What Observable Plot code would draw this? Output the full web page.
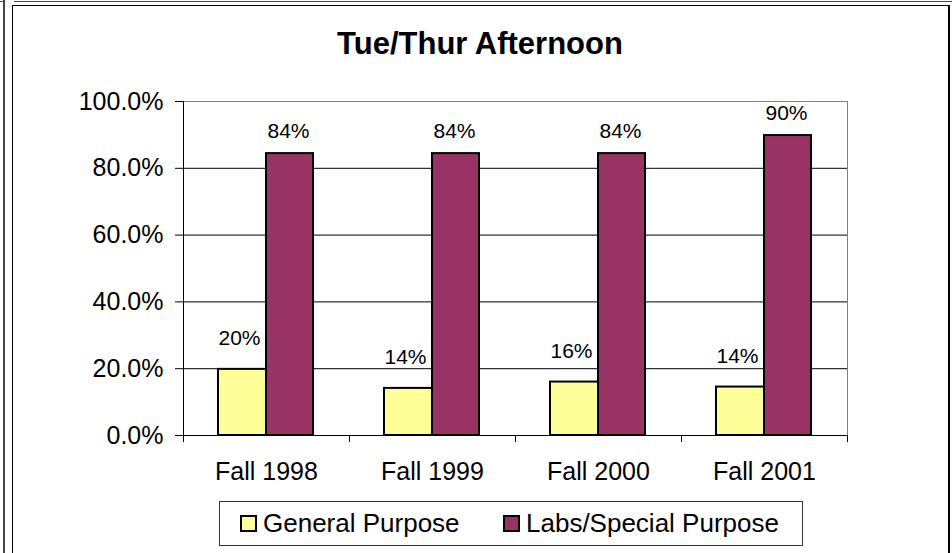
<!DOCTYPE html>
<html>
<head>
<meta charset="utf-8">
<script src="https://cdn.jsdelivr.net/npm/d3@7"></script>
<script src="https://cdn.jsdelivr.net/npm/@observablehq/plot@0.6"></script>
<style>
  html, body { margin: 0; padding: 0; background: #fff; }
  #wrap { position: relative; width: 952px; height: 553px; overflow: hidden; font-family: "Liberation Sans", Arial, sans-serif; }
  #wrap svg { position: absolute; left: 0; top: 0; }
  .ln { position: absolute; }
  #title { position: absolute; left: 0; width: 960px; top: 29px; text-align: center; font-size: 31px; line-height: 30px; font-weight: bold; color: #000; }
  #legend { position: absolute; left: 219px; top: 501px; width: 582px; height: 43px; border: 1px solid #333; box-sizing: content-box; display: flex; align-items: center; font-size: 26px; color: #000; }
  .item { display: flex; align-items: center; position: absolute; top: 0; height: 43px; }
  .sw { width: 13px; height: 13px; border: 2px solid #000; margin-right: 6px; }
</style>
</head>
<body>
<div id="wrap">
  <div class="ln" style="left:3px;top:0;width:2px;height:553px;background:#444"></div>
  <div class="ln" style="left:0;top:1px;width:5px;height:1px;background:#444"></div>
  <div class="ln" style="left:14px;top:1px;width:938px;height:1px;background:#444"></div>
  <div class="ln" style="left:12px;top:5px;width:935px;height:560px;border-left:1px solid #000;border-top:1px solid #000;border-right:2px solid #000"></div>
  <div id="chart"></div>
  <div id="title"></div>
  <div id="legend"></div>
</div>
<script>
const title = "Tue/Thur Afternoon";
const categories = ["Fall 1998", "Fall 1999", "Fall 2000", "Fall 2001"];
const seriesNames = ["General Purpose", "Labs/Special Purpose"];
const seriesColors = ["#FFFF99", "#993366"];
const generalPurpose = [0.198, 0.141, 0.160, 0.145];
const labsSpecial = [0.844, 0.844, 0.844, 0.898];
const yTicks = [0, 0.2, 0.4, 0.6, 0.8, 1.0];

const gpData = categories.map((c, i) => ({cat: c, series: seriesNames[0], value: generalPurpose[i]}));
const lsData = categories.map((c, i) => ({cat: c, series: seriesNames[1], value: labsSpecial[i]}));
const pct0 = d3.format(".0%");
const pct1 = d3.format(".1%");

const chart = Plot.plot({
  width: 952,
  height: 553,
  marginLeft: 183,
  marginRight: 105,
  marginTop: 101,
  marginBottom: 118,
  style: {fontFamily: "'Liberation Sans', Arial, sans-serif", background: "transparent", color: "#000"},
  x: {domain: categories, padding: 0, axis: null, label: null},
  y: {domain: [0, 1], axis: null, label: null},
  marks: [
    Plot.gridY(yTicks.slice(1, -1), {stroke: "#000", strokeOpacity: 1}),
    Plot.frame({stroke: "#808080"}),
    Plot.ruleY([0], {stroke: "#000"}),
    Plot.ruleX([categories[0]], {dx: -83, stroke: "#000"}),
    Plot.barY(gpData, {x: "cat", y: "value", fill: seriesColors[0], stroke: "#000", strokeWidth: 2, insetLeft: 35, insetRight: 83}),
    Plot.barY(lsData, {x: "cat", y: "value", fill: seriesColors[1], stroke: "#000", strokeWidth: 2, insetLeft: 83, insetRight: 36}),
    Plot.text(gpData, {x: "cat", y: "value", text: d => pct0(d.value), dx: -27, dy: -31, fontSize: 21, fill: "#000"}),
    Plot.text(lsData, {x: "cat", y: "value", text: d => pct0(d.value), dx: 22, dy: -22, fontSize: 21, fill: "#000"}),
    Plot.axisY({ticks: yTicks, tickFormat: pct1, tickSize: 8, tickPadding: 12, fontSize: 25, label: null}),
    Plot.axisX({tickSize: 0, tickPadding: 27, fontSize: 25, label: null}),
    Plot.axisX({tickSize: 7, tickFormat: () => "", dx: -83, label: null}),
    Plot.axisX({ticks: [categories[categories.length - 1]], tickSize: 7, tickFormat: () => "", dx: 83, label: null})
  ]
});
document.getElementById("chart").appendChild(chart);
document.getElementById("title").textContent = title;

const legend = document.getElementById("legend");
const positions = [20, 283];
seriesNames.forEach((name, i) => {
  const it = document.createElement("div");
  it.className = "item";
  it.style.left = positions[i] + "px";
  const sw = document.createElement("div");
  sw.className = "sw";
  sw.style.background = seriesColors[i];
  const tx = document.createElement("span");
  tx.textContent = name;
  it.appendChild(sw);
  it.appendChild(tx);
  legend.appendChild(it);
});
</script>
</body>
</html>
